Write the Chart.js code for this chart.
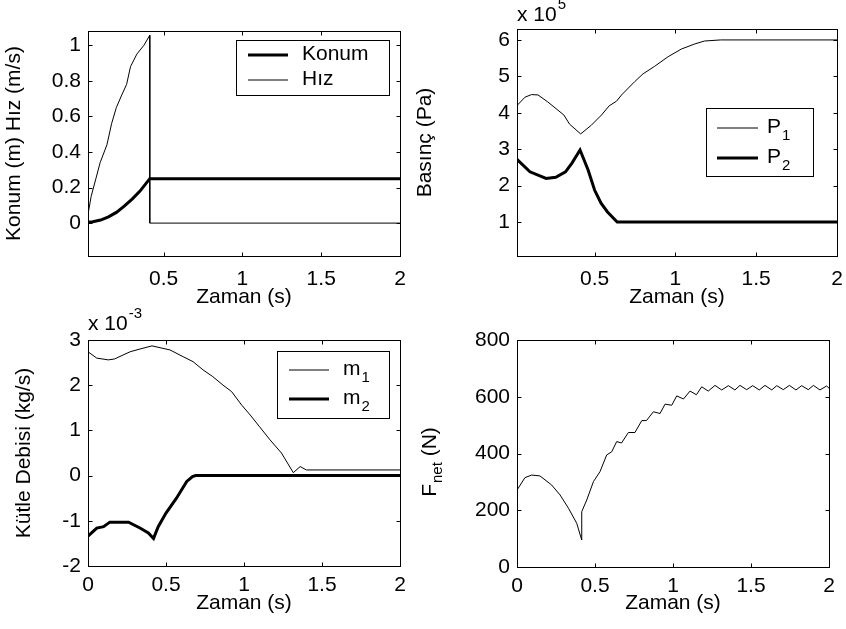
<!DOCTYPE html>
<html>
<head>
<meta charset="utf-8">
<script src="https://cdn.jsdelivr.net/npm/chart.js@4/dist/chart.umd.min.js"></script>
<style>
  body { margin: 0; background: #fff; }
  #wrap { position: relative; width: 846px; height: 629px; }
  canvas { position: absolute; }
</style>
</head>
<body>
<div id="wrap">
  <canvas id="konumChart" width="423" height="314" style="left:0;top:0"></canvas>
  <canvas id="basincChart" width="434" height="314" style="left:412px;top:0"></canvas>
  <canvas id="debiChart" width="423" height="329" style="left:0;top:300px"></canvas>
  <canvas id="kuvvetChart" width="434" height="329" style="left:412px;top:300px"></canvas>
</div>
<script>
// --- data (time in s) ---
const konumT = [0.02, 0.05, 0.1, 0.15, 0.2, 0.25, 0.3, 0.35, 0.412, 2];
const konumV = [0.005, 0.008, 0.017, 0.035, 0.06, 0.095, 0.135, 0.18, 0.25, 0.25];
const hizT = [0.02, 0.04, 0.07, 0.097, 0.14, 0.17, 0.2, 0.234, 0.265, 0.29, 0.33, 0.375, 0.412, 0.412, 2];
const hizV = [0.05, 0.15, 0.25, 0.34, 0.44, 0.56, 0.65, 0.72, 0.78, 0.88, 0.95, 1.0, 1.056, 0, 0];

// pressures in units of 1e5 Pa
const p1T = [0.02, 0.07, 0.11, 0.15, 0.21, 0.31, 0.345, 0.414, 0.48, 0.543, 0.59, 0.636, 0.667, 0.747, 0.8, 0.87, 0.955, 1.037, 1.12, 1.18, 1.28, 2];
const p1V = [4.2, 4.43, 4.5, 4.49, 4.3, 3.94, 3.69, 3.42, 3.66, 3.94, 4.19, 4.32, 4.49, 4.85, 5.07, 5.27, 5.54, 5.75, 5.89, 5.97, 6.0, 6.0];
const p2T = [0.02, 0.1, 0.2, 0.26, 0.32, 0.36, 0.41, 0.46, 0.5, 0.54, 0.58, 0.64, 2];
const p2V = [2.72, 2.38, 2.2, 2.23, 2.38, 2.62, 2.98, 2.43, 1.88, 1.52, 1.28, 1.0, 1.0];

// mass flow in units of 1e-3 kg/s
const m1T = [0, 0.056, 0.13, 0.17, 0.27, 0.333, 0.41, 0.526, 0.61, 0.674, 0.737, 0.8, 0.866, 0.92, 0.985, 1.04, 1.1, 1.167, 1.24, 1.316, 1.36, 1.4, 2];
const m1V = [2.74, 2.6, 2.56, 2.58, 2.74, 2.8, 2.87, 2.78, 2.63, 2.52, 2.34, 2.19, 2.0, 1.86, 1.56, 1.34, 1.08, 0.79, 0.5, 0.065, 0.2, 0.125, 0.125];
const m2T = [0, 0.056, 0.1, 0.14, 0.26, 0.333, 0.387, 0.42, 0.45, 0.5, 0.567, 0.633, 0.67, 0.69, 2];
const m2V = [-1.34, -1.16, -1.13, -1.03, -1.03, -1.16, -1.27, -1.39, -1.13, -0.83, -0.5, -0.13, -0.02, 0, 0];

// net force (N)
const fT = [0, 0.051, 0.094, 0.147, 0.222, 0.276, 0.33, 0.383, 0.415, 0.415, 0.447, 0.49, 0.532, 0.575, 0.607,
  0.639, 0.67, 0.714, 0.756, 0.8, 0.83, 0.874, 0.917, 0.949, 0.992, 1.024, 1.067, 1.109, 1.15, 1.184, 1.226,
  1.269, 1.312, 1.355, 1.397, 1.429, 1.472, 1.511, 1.553, 1.59, 1.633, 1.665, 1.707, 1.746, 1.788, 1.825,
  1.867, 1.9, 1.942, 1.985, 2];
const fV = [271, 315, 324, 321, 289, 254, 207, 154, 95, 195, 236, 301, 336, 395, 406,
  442, 437, 474, 474, 516, 516, 547, 541, 574, 570, 603, 592, 620, 607, 635, 620,
  640, 624, 639, 624, 640, 625, 639, 624, 640, 624, 639, 625, 640, 624, 639,
  625, 640, 624, 638, 630];

// tick labels
const topXTicks = [0.5, 1, 1.5, 2];
const bottomXTicks = [0, 0.5, 1, 1.5, 2];
const konumYTicks = [0, 0.2, 0.4, 0.6, 0.8, 1];
const basincYTicks = [1, 2, 3, 4, 5, 6];
const debiYTicks = [-2, -1, 0, 1, 2, 3];
const kuvvetYTicks = [0, 200, 400, 600, 800];

const FONT = '"Liberation Sans", Arial, Helvetica, sans-serif';
Chart.defaults.font.family = FONT;
Chart.defaults.color = '#000';

function series(label, t, v, width) {
    return {
        label: label,
        data: t.map((x, i) => ({ x: x, y: v[i] })),
        borderColor: '#000',
        borderWidth: width,
        pointRadius: 0,
        tension: 0,
        fill: false
    };
}

// text with an optional subscript (a_b) or superscript (a^b)
function drawScript(ctx, x, y, text, size) {
    const m = text.match(/^([^_^]*)([_^])(.*)$/);
    ctx.font = size + 'px ' + FONT;
    if (!m) {
        ctx.fillText(text, x, y);
        return;
    }
    ctx.fillText(m[1], x, y);
    const w = ctx.measureText(m[1]).width;
    ctx.font = Math.round(size * 0.7) + 'px ' + FONT;
    ctx.fillText(m[3], x + w + 1, y + (m[2] === '_' ? size * 0.42 : -size * 0.5));
}

const matlabPlugin = {
    id: 'matlab',
    afterDraw(chart, args, opts) {
        const { ctx, chartArea: a, scales } = chart;
        ctx.save();
        ctx.strokeStyle = '#000';
        ctx.fillStyle = '#000';
        ctx.lineWidth = 1;

        // legend box
        if (opts.legend) {
            const lg = opts.legend;
            ctx.fillStyle = '#fff';
            ctx.fillRect(lg.box[0], lg.box[1], lg.box[2] - lg.box[0], lg.box[3] - lg.box[1]);
            ctx.strokeRect(lg.box[0] + 0.5, lg.box[1] + 0.5, lg.box[2] - lg.box[0], lg.box[3] - lg.box[1]);
            ctx.fillStyle = '#000';
            chart.data.datasets.forEach((ds, i) => {
                const ry = lg.rows[i];
                ctx.lineWidth = ds.borderWidth;
                ctx.beginPath();
                ctx.moveTo(lg.lineX[0], ry);
                ctx.lineTo(lg.lineX[1], ry);
                ctx.stroke();
                ctx.textBaseline = 'middle';
                ctx.textAlign = 'left';
                drawScript(ctx, lg.textX, ry - 1, ds.label, 21);
            });
            ctx.lineWidth = 1;
        }

        // axes box with inward ticks on all sides
        const l = Math.round(a.left) + 0.5, r = Math.round(a.right) + 0.5;
        const t = Math.round(a.top) + 0.5, b = Math.round(a.bottom) + 0.5;
        ctx.strokeRect(l, t, r - l, b - t);
        ctx.beginPath();
        scales.x.ticks.forEach(tk => {
            const px = Math.round(scales.x.getPixelForValue(tk.value)) + 0.5;
            ctx.moveTo(px, b); ctx.lineTo(px, b - 4);
            ctx.moveTo(px, t); ctx.lineTo(px, t + 4);
        });
        scales.y.ticks.forEach(tk => {
            const py = Math.round(scales.y.getPixelForValue(tk.value)) + 0.5;
            ctx.moveTo(l, py); ctx.lineTo(l + 4, py);
            ctx.moveTo(r, py); ctx.lineTo(r - 4, py);
        });
        ctx.stroke();

        // axis multiplier (x 10^n)
        if (opts.exponent) {
            ctx.textBaseline = 'middle';
            ctx.textAlign = 'left';
            drawScript(ctx, opts.exponent.x, opts.exponent.y, opts.exponent.text, 21);
        }

        // y label with subscript
        if (opts.yLabel) {
            const yl = opts.yLabel;
            ctx.translate(yl.x, yl.y);
            ctx.rotate(-Math.PI / 2);
            ctx.textBaseline = 'middle';
            ctx.font = '21px ' + FONT;
            const w1 = ctx.measureText(yl.main).width;
            ctx.font = '15px ' + FONT;
            const w2 = ctx.measureText(yl.sub).width;
            ctx.font = '21px ' + FONT;
            const w3 = ctx.measureText(yl.tail).width;
            let x0 = -(w1 + w2 + w3 + 1) / 2;
            ctx.textAlign = 'left';
            ctx.fillText(yl.main, x0, 0);
            ctx.font = '15px ' + FONT;
            ctx.fillText(yl.sub, x0 + w1 + 1, 8);
            ctx.font = '21px ' + FONT;
            ctx.fillText(yl.tail, x0 + w1 + w2 + 1, 0);
        }
        ctx.restore();
    }
};

function buildChart(id, cfg) {
    const tickFont = { family: FONT, size: 21 };
    const config = {
        type: 'line',
        data: { datasets: cfg.datasets },
        options: {
            responsive: false,
            animation: false,
            devicePixelRatio: 1,
            layout: { padding: cfg.padding },
            plugins: {
                legend: { display: false },
                tooltip: { enabled: false },
                matlab: cfg.extra || {}
            },
            scales: {
                x: {
                    type: 'linear',
                    min: cfg.xRange[0],
                    max: cfg.xRange[1],
                    grid: { display: false, drawTicks: false },
                    border: { display: false },
                    ticks: { font: tickFont, color: '#000', padding: cfg.xTickPad, maxRotation: 0, autoSkip: false, callback: v => String(v) },
                    afterBuildTicks: s => { s.ticks = cfg.xTicks.map(v => ({ value: v })); },
                    afterFit: s => {
                        s.height = cfg.xHeight;
                        s.paddingLeft = 0;
                        s.paddingRight = 0;
                    },
                    title: {
                        display: true, text: 'Zaman (s)', color: '#000',
                        font: { family: FONT, size: 21, lineHeight: 1.2 },
                        padding: { top: 0, bottom: cfg.xTitlePad }
                    }
                },
                y: {
                    type: 'linear',
                    min: cfg.yRange[0],
                    max: cfg.yRange[1],
                    grid: { display: false, drawTicks: false },
                    border: { display: false },
                    ticks: { font: tickFont, color: '#000', padding: 7, autoSkip: false, callback: v => String(v) },
                    afterBuildTicks: s => { s.ticks = cfg.yTicks.map(v => ({ value: v })); },
                    afterFit: s => { s.width = cfg.yWidth; },
                    title: {
                        display: !!cfg.yTitle, text: cfg.yTitle || '', color: '#000',
                        font: { family: FONT, size: 21, lineHeight: 1.2 },
                        padding: { top: cfg.yTitlePad || 0, bottom: 0 }
                    }
                }
            }
        },
        plugins: [matlabPlugin]
    };
    new Chart(document.getElementById(id), config);
}

buildChart('konumChart', {
    datasets: [series('Konum', konumT, konumV, 3), series('Hız', hizT, hizV, 1)],
    padding: { top: 31, right: 23, bottom: 0, left: 0 },
    xRange: [0.02, 2], yRange: [-0.185, 1.08],
    xTicks: topXTicks, yTicks: konumYTicks,
    xHeight: 58, yWidth: 88, xTitlePad: 4, yTitlePad: 2, xTickPad: 11,
    yTitle: 'Konum (m) Hız (m/s)',
    extra: { legend: { box: [236, 40, 389, 95], rows: [55, 80], lineX: [248, 288], textX: 302 } }
});

buildChart('basincChart', {
    datasets: [series('P_1', p1T, p1V, 1), series('P_2', p2T, p2V, 3)],
    padding: { top: 29, right: 9, bottom: 0, left: 0 },
    xRange: [0.02, 2], yRange: [0.07, 6.3],
    xTicks: topXTicks, yTicks: basincYTicks,
    xHeight: 58, yWidth: 105, xTitlePad: 4, yTitlePad: 1, xTickPad: 11,
    yTitle: 'Basınç (Pa)',
    extra: {
        legend: { box: [294, 108, 401, 176], rows: [128, 158], lineX: [305, 346], textX: 355 },
        exponent: { x: 105, y: 15, text: 'x 10^5' }
    }
});

buildChart('debiChart', {
    datasets: [series('m_1', m1T, m1V, 1), series('m_2', m2T, m2V, 3)],
    padding: { top: 40, right: 23, bottom: 0, left: 0 },
    xRange: [0, 2], yRange: [-2, 3],
    xTicks: bottomXTicks, yTicks: debiYTicks,
    xHeight: 63, yWidth: 88, xTitlePad: 13, yTitlePad: 12, xTickPad: 7,
    yTitle: 'Kütle Debisi (kg/s)',
    extra: {
        legend: { box: [277, 51, 389, 118], rows: [70, 99], lineX: [289, 329], textX: 343 },
        exponent: { x: 88, y: 24, text: 'x 10^-3' }
    }
});

buildChart('kuvvetChart', {
    datasets: [series('F_net', fT, fV, 1)],
    padding: { top: 40, right: 17, bottom: 0, left: 0 },
    xRange: [0, 2], yRange: [0, 800],
    xTicks: bottomXTicks, yTicks: kuvvetYTicks,
    xHeight: 62, yWidth: 105, xTitlePad: 13, xTickPad: 7,
    extra: { yLabel: { x: 18, y: 162, main: 'F', sub: 'net', tail: ' (N)' } }
});
</script>
</body>
</html>
